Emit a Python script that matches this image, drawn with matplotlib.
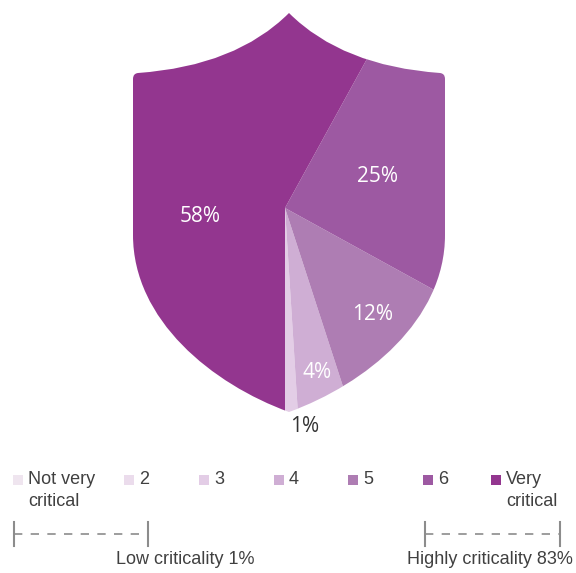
import matplotlib
matplotlib.use("Agg")
import matplotlib.pyplot as plt
from matplotlib.path import Path
from matplotlib.patches import PathPatch

# data
categories = ["Not very\ncritical", "2", "3", "4", "5", "6", "Very\ncritical"]
values = [0, 0, 1, 4, 12, 25, 58]
colors = ["#efe5ef", "#ebdcec", "#e3cde6", "#cfaed4", "#ae7db3", "#9d59a2", "#93368f"]
pct_labels = ["", "", "1%", "4%", "12%", "25%", "58%"]
groups = ["Low criticality", "Highly criticality"]
group_values = [sum(values[:3]), sum(values[5:])]

W, H = 576, 573


def Y(py):
    # pixel row (from top) -> data y
    return H - py


fig = plt.figure(figsize=(W / 100, H / 100), dpi=100)
ax = fig.add_axes([0, 0, 1, 1])

cx, cy = 285, 208
wedges, _ = ax.pie(values, colors=colors, startangle=-90, counterclock=True,
                   center=(cx, Y(cy)), radius=235,
                   wedgeprops=dict(linewidth=0))

# shield outline (pixel coords, y down), symmetric around x=289
left = [
    (Path.MOVETO, (289, 13)),
    (Path.CURVE3, (236, 66)), (Path.CURVE3, (138, 73)),
    (Path.CURVE3, (133, 73.5)), (Path.CURVE3, (133, 79)),
    (Path.LINETO, (133, 235)),
    (Path.CURVE4, (133, 320)), (Path.CURVE4, (212, 384)), (Path.CURVE4, (289, 412)),
]
right = [
    (Path.CURVE4, (366, 384)), (Path.CURVE4, (445, 320)), (Path.CURVE4, (445, 235)),
    (Path.LINETO, (445, 79)),
    (Path.CURVE3, (445, 73.5)), (Path.CURVE3, (440, 73)),
    (Path.CURVE3, (342, 66)), (Path.CURVE3, (289, 13)),
    (Path.CLOSEPOLY, (289, 13)),
]
codes = [c for c, _ in left + right]
verts = [(x, Y(y)) for _, (x, y) in left + right]
shield = PathPatch(Path(verts, codes), facecolor="none", edgecolor="none")
ax.add_patch(shield)
for w in wedges:
    w.set_clip_on(True)
    w.set_clip_path(shield)

# percentage labels
label_pos = [None, None, (305, 427), (317, 372), (373, 314), (378, 176), (200, 216)]
for lab, pos in zip(pct_labels, label_pos):
    if pos is None:
        continue
    col = "#333333" if lab == "1%" else "white"
    ax.text(pos[0], Y(pos[1]), lab, ha="center", va="center", color=col,
            fontsize=15, family="Open Sans")

# legend
leg_x = [14, 125, 200, 275, 349, 424, 492]
for x, c, name in zip(leg_x, colors, categories):
    ax.scatter([x + 4], [Y(480)], marker="s", s=48, color=c, linewidths=0)
    for i, ln in enumerate(name.split("\n")):
        ax.text(x + 14, Y(479 + 22 * i), ln, ha="left", va="center",
                color="#404040", fontsize=13, family="Liberation Sans")

# criticality brackets
brackets = [(14, 148), (425, 560)]
for (x0, x1), g, v, tx, ha in zip(brackets, groups, group_values, [116, 573], ["left", "right"]):
    ax.plot([x0, x1], [Y(534), Y(534)], color="#8c8c8c", lw=1.2, ls=(0, (5, 5)))
    for xx in (x0, x1):
        ax.plot([xx, xx], [Y(522), Y(546)], color="#8c8c8c", lw=1.5)
    ax.text(tx, Y(559), f"{g} {v}%", ha=ha, va="center", color="#404040",
            fontsize=13, family="Liberation Sans")

ax.set_xlim(0, W)
ax.set_ylim(0, H)
ax.set_aspect("auto")
ax.axis("off")

fig.savefig("out.png", dpi=100)
